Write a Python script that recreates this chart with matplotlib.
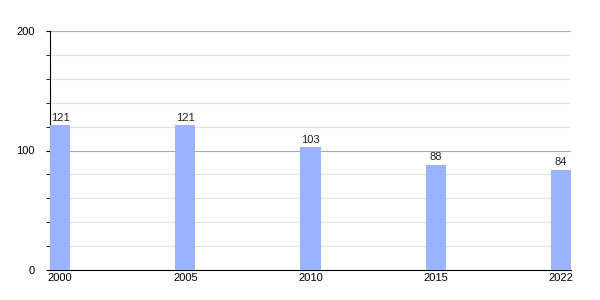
import matplotlib
matplotlib.use("Agg")
import matplotlib.pyplot as plt
from matplotlib.ticker import MultipleLocator

plt.rcParams["font.family"] = ["Liberation Sans", "DejaVu Sans"]

years = ["2000", "2005", "2010", "2015", "2022"]
values = [121, 121, 103, 88, 84]

bar_color = "#99b3ff"

fig = plt.figure(figsize=(6, 3), dpi=100)
ax = fig.add_axes([50 / 600, 30 / 300, 521 / 600, 239 / 300])

pos = list(range(len(years)))
width = 0.16
bars = ax.bar(pos, values, width=width, align="edge", color=bar_color, zorder=3)

# value labels on top
for b, v in zip(bars, values):
    ax.text(b.get_x() + width / 2, v + 2, str(v), ha="center", va="bottom",
            fontsize=8, color="#222222")

ax.set_xlim(0, 4 + width)
ax.set_ylim(0, 200)
ax.set_xticks([p + width / 2 for p in pos])
ax.set_xticklabels(years)
ax.yaxis.set_major_locator(MultipleLocator(100))
ax.yaxis.set_minor_locator(MultipleLocator(20))

ax.grid(axis="y", which="major", color="#aaaaaa", linewidth=0.8, zorder=1)
ax.grid(axis="y", which="minor", color="#e2e2e2", linewidth=0.8, zorder=1)

for side in ["top", "right"]:
    ax.spines[side].set_visible(False)
ax.spines["left"].set_color("black")
ax.spines["bottom"].set_color("black")

ax.tick_params(axis="x", length=0, labelsize=8, pad=2)
ax.tick_params(axis="y", which="major", length=3, labelsize=8, pad=8)
ax.tick_params(axis="y", which="minor", length=3)

fig.savefig("out.png", dpi=100)
